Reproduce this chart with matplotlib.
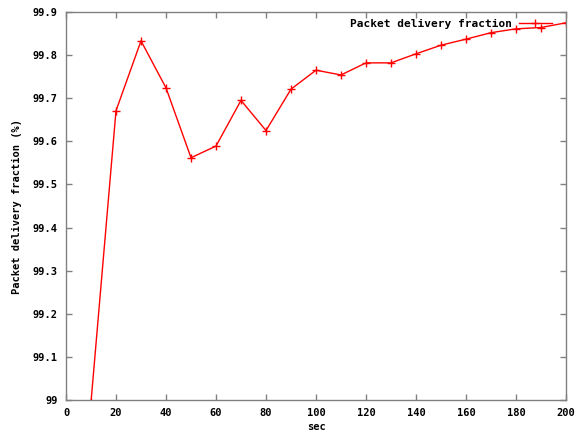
import matplotlib
matplotlib.use("Agg")
import matplotlib.pyplot as plt

sec = [10, 20, 30, 40, 50, 60, 70, 80, 90, 100, 110, 120, 130, 140, 150, 160, 170, 180, 190, 200]
pdf = [98.995, 99.671, 99.833, 99.724, 99.562, 99.589, 99.695, 99.625, 99.721, 99.765,
       99.754, 99.782, 99.782, 99.803, 99.823, 99.837, 99.852, 99.861, 99.864, 99.875]
xticks = [0, 20, 40, 60, 80, 100, 120, 140, 160, 180, 200]
yticks = [99, 99.1, 99.2, 99.3, 99.4, 99.5, 99.6, 99.7, 99.8, 99.9]
ytick_labels = ["99", "99.1", "99.2", "99.3", "99.4", "99.5", "99.6", "99.7", "99.8", "99.9"]

plt.rcParams['font.family'] = ['DejaVu Sans Mono']
plt.rcParams['font.weight'] = 'bold'

fig = plt.figure(figsize=(5.76, 4.34), dpi=100)
ax = fig.add_axes([66/576, 1 - 400/434, 500/576, 388/434])
ax.plot(sec, pdf, color='#ff0000', lw=1, marker='+', markersize=6, markeredgewidth=1,
        label='Packet delivery fraction')
ax.set_xlim(0, 200)
ax.set_ylim(99, 99.9)
ax.set_xticks(xticks)
ax.set_xticklabels([str(t) for t in xticks])
ax.set_yticks(yticks)
ax.set_yticklabels(ytick_labels)
ax.tick_params(direction='in', length=4, width=1, color='#808080', top=True, right=True,
               labelsize=7.5, pad=6)
for s in ax.spines.values():
    s.set_color('#808080')
    s.set_linewidth(1)
ax.set_xlabel('sec', fontsize=7.5, fontweight='bold', labelpad=3)
ax.set_ylabel('Packet delivery fraction (%)', fontsize=7.5, fontweight='bold', labelpad=8)
leg = ax.legend(loc='upper right', frameon=False, fontsize=8, markerfirst=False,
                handlelength=3.0, borderaxespad=0.2, handletextpad=0.6,
                bbox_to_anchor=(0.985, 1.0))
fig.savefig('out.png', dpi=100)
